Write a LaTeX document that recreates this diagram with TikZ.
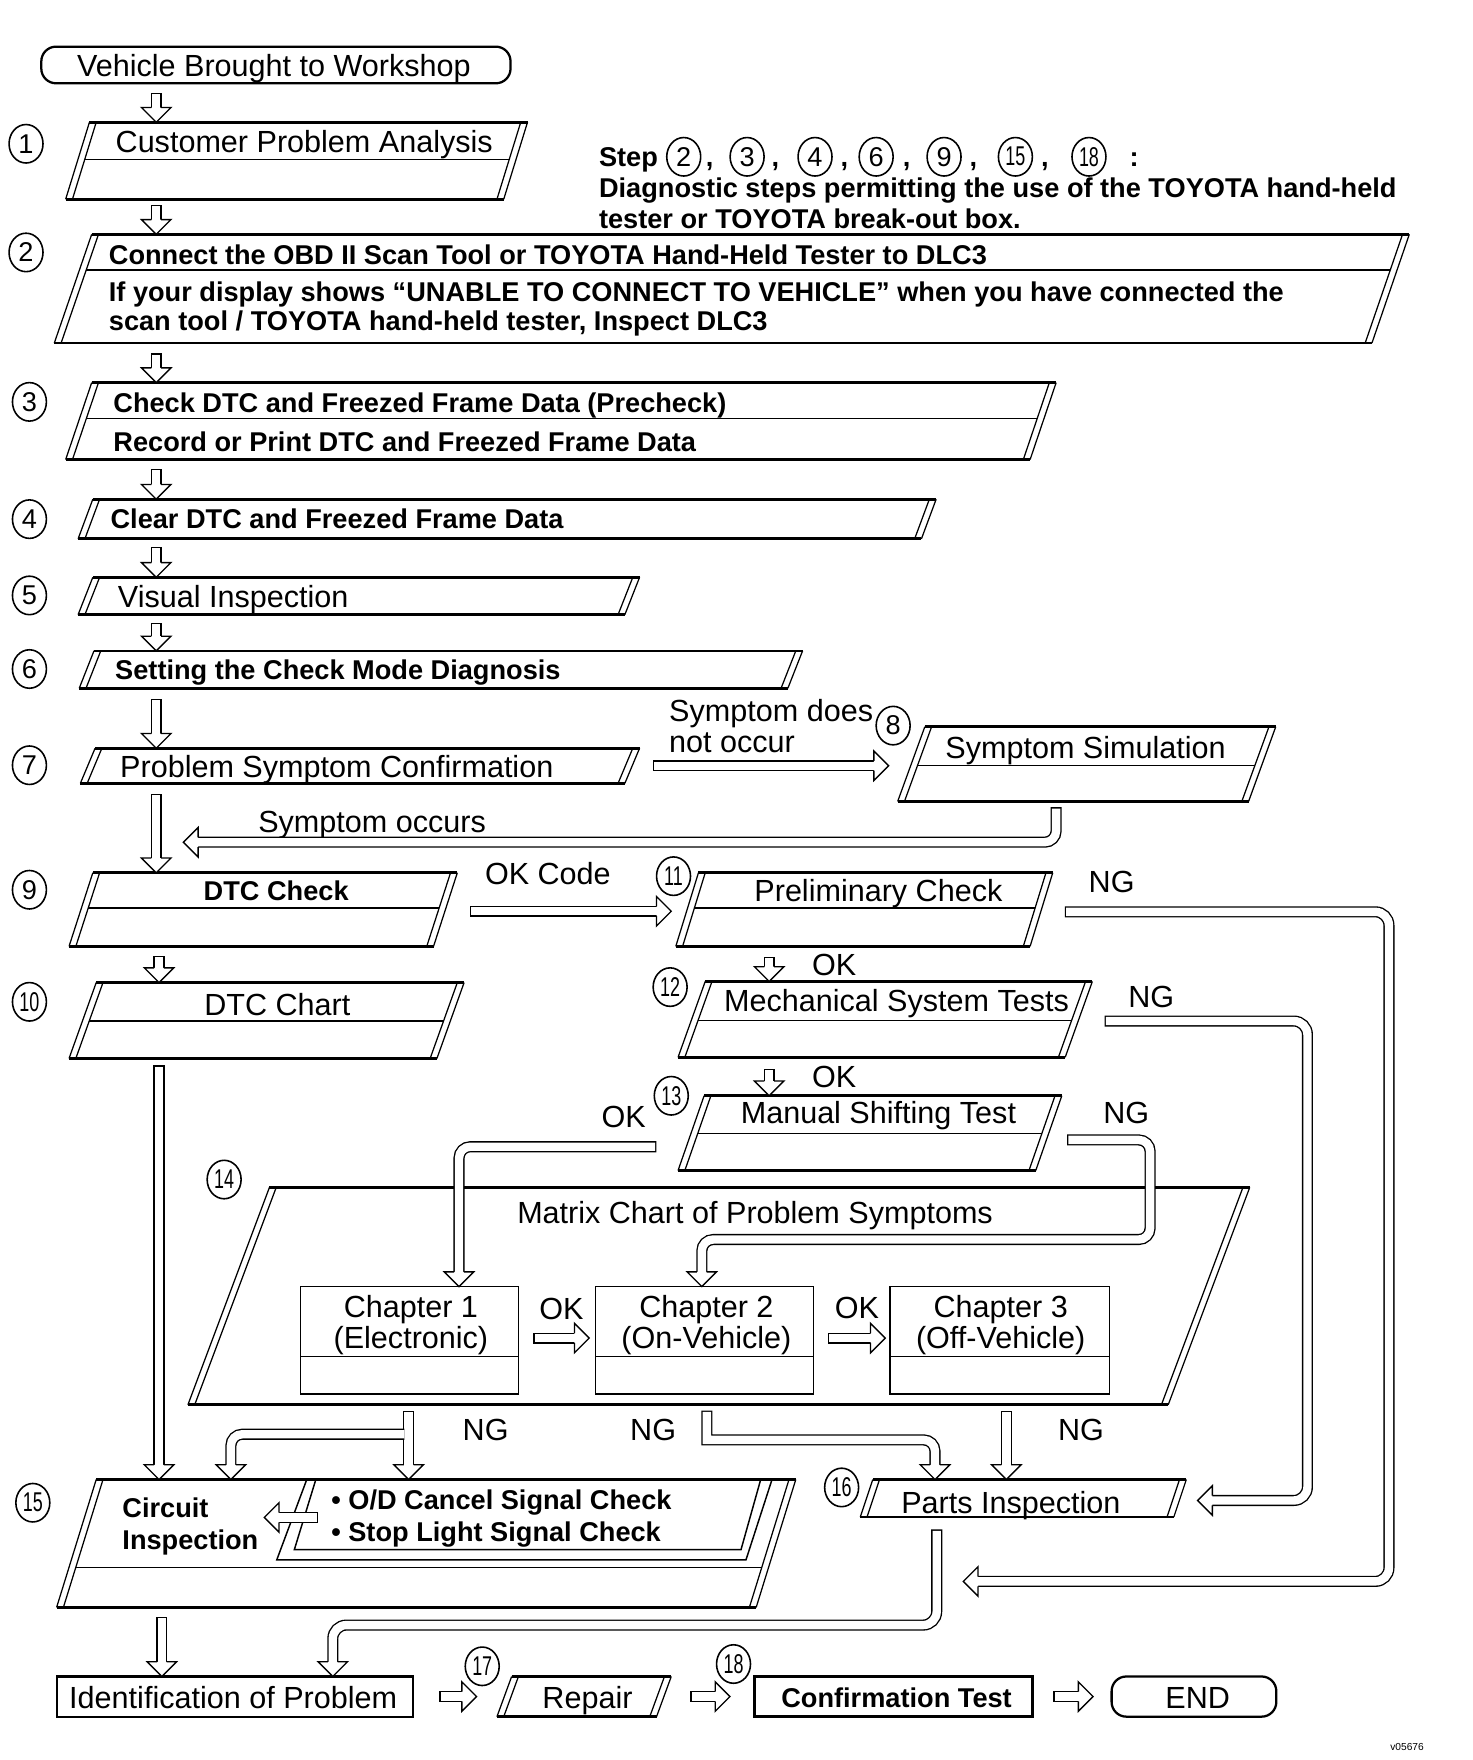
\documentclass[tikz,border=0pt]{standalone}
\usepackage{fontspec}
\setmainfont{Liberation Sans}
\usepackage{graphicx}
\usetikzlibrary{calc,fit,shapes.geometric}
\newcommand\tw[1]{\scalebox{0.66}[1]{#1}}
\newcommand\pgram[2]{%
 \coordinate (#1-tl) at ([xshift=#2]#1.north west);
 \coordinate (#1-br) at ([xshift=-#2]#1.south east);
 \coordinate (#1-tli) at ([xshift=6pt]#1-tl);
 \coordinate (#1-bli) at ([xshift=6pt]#1.south west);
 \coordinate (#1-tri) at ([xshift=-6pt]#1.north east);
 \coordinate (#1-bri) at ([xshift=-6pt]#1-br);
 \draw[side] (#1-tl) -- (#1.south west) (#1-tli) -- (#1-bli) (#1.north east) -- (#1-br) (#1-tri) -- (#1-bri);
 \draw[edge] (#1-tl) -- (#1.north east) (#1.south west) -- (#1-br);
}
\newcommand\pdiv[2]{\draw[divl] ($(#1-tli)!#2!(#1-bli)$) -- ($(#1-tri)!#2!(#1-bri)$);}
\newcommand\adn[2]{\coordinate (aS) at (#1); \coordinate (aT) at (#2); \draw[dshaft] (aS) -- ($(aT)+(0,-13)$); \pic at (aT) {bhead};}
\newcommand\art[2]{\coordinate (aS) at (#1); \coordinate (aT) at (#2); \draw[dshaft] (aS) -- ($(aT)+(-13,0)$); \pic[rotate=90] at (aT) {bhead};}
\newcommand\alf[2]{\coordinate (aS) at (#1); \coordinate (aT) at (#2); \draw[dshaft] (aS) -- ($(aT)+(13,0)$); \pic[rotate=-90] at (aT) {bhead};}
\tikzset{
 edge/.style={line width=2.4pt},
 side/.style={line width=1.1pt},
 divl/.style={line width=1.1pt},
 rt/.style={inner sep=0pt, text height=19.3pt, text depth=0pt, font=\fontsize{27}{32}\selectfont},
 bt/.style={inner sep=0pt, text height=17.2pt, text depth=0pt, font=\bfseries\fontsize{24}{29}\selectfont},
 num/.style={ellipse, draw, line width=1.4pt, minimum width=30pt, minimum height=34pt, inner sep=0pt, font=\fontsize{24}{24}\selectfont},
 area/.style={inner sep=0pt, outer sep=0pt},
 dshaft/.style={draw=black, double=white, double distance=7.4pt, line width=1.2pt, line cap=rect, line join=miter},
 bshaft/.style={dshaft, line cap=butt},
 pics/bhead/.style={code={\filldraw[fill=white, draw=black, line width=1.2pt, line join=miter, miter limit=4] (-4.3pt,13pt) -- (-13pt,13pt) -- (0pt,0pt) -- (13pt,13pt) -- (4.3pt,13pt);}},
}
\begin{document}
\begin{tikzpicture}[x=1pt, y=-1pt]
\useasboundingbox (0,0) rectangle (1300.4,1554.8);
% columns
\coordinate (colA) at (138,0);
\coordinate (colB) at (140.5,0);
\coordinate (colC) at (679.5,0);
\coordinate (colD) at (143,0);
\coordinate (colE) at (933,0);
\coordinate (colF) at (405.5,0);
\coordinate (colG) at (620,0);
\coordinate (colH) at (361,0);
\coordinate (colI) at (204,0);
\coordinate (colJ) at (624.5,0);
\coordinate (colK) at (826,0);
\coordinate (colL) at (889,0);
\coordinate (colM) at (827.5,0);
\coordinate (colN) at (294,0);

% start terminal
\node[area, draw, line width=2pt, rounded corners=13pt, fit={(36.5,41.2) (451,73.6)}] (vt) {};
\node[rt] (vtt) at (242,57.5) {Vehicle Brought to Workshop};

% boxes
\node[area, fit={(58,108) (466,176)}] (n1) {};
\pgram{n1}{21pt}\pdiv{n1}{0.485}
\node[area, fit={(48,207) (1245,303)}] (n2) {};
\pgram{n2}{33pt}\pdiv{n2}{0.328}
\node[area, fit={(58,338) (933,406)}] (n3) {};
\pgram{n3}{23pt}\pdiv{n3}{0.47}
\node[area, fit={(69,441) (827,476)}] (n4) {};
\pgram{n4}{13pt}
\node[area, fit={(69,510) (565,543)}] (n5) {};
\pgram{n5}{13pt}
\node[area, fit={(70,575) (709,608)}] (n6) {};
\pgram{n6}{13pt}
\node[area, fit={(71,661) (565,692)}] (n7) {};
\pgram{n7}{13pt}
\node[area, fit={(793,642) (1127,708)}] (n8) {};
\pgram{n8}{24pt}\pdiv{n8}{0.515}
\node[area, fit={(61,771) (404,836)}] (n9) {};
\pgram{n9}{21pt}\pdiv{n9}{0.48}
\node[area, fit={(61,868) (410,935)}] (n10) {};
\pgram{n10}{24pt}\pdiv{n10}{0.507}
\node[area, fit={(597,771) (930,836)}] (n11) {};
\pgram{n11}{20pt}\pdiv{n11}{0.48}
\node[area, fit={(599,867) (965,934)}] (n12) {};
\pgram{n12}{24pt}\pdiv{n12}{0.52}
\node[area, fit={(599,968) (938,1034)}] (n13) {};
\pgram{n13}{23pt}\pdiv{n13}{0.5}
\node[area, fit={(166,1049) (1104,1241)}] (n14) {};
\pgram{n14}{72pt}
\node[area, fit={(50,1307) (703,1420)}] (n15) {};
\pgram{n15}{35pt}\pdiv{n15}{0.69}
\node[area, fit={(760,1307) (1048,1340)}] (n16) {};
\pgram{n16}{11pt}
\node[area, fit={(439,1481) (593,1516.5)}] (n17) {};
\pgram{n17}{13pt}

% inner box of 15
\node[area, fit={(244.5,1306) (682,1378)}] (ib) {};
\draw[line width=1.3pt] (271,1307) -- (244.5,1378) -- (659,1378) -- (682,1307);
\draw[line width=1.3pt] (279,1307) -- (260,1369) -- (654.6,1369) -- (672,1307);

% chapter boxes
\node[area, draw, line width=1.5pt, fit={(265.5,1136.6) (458,1231.5)}] (ch1) {};
\node[area, draw, line width=1.5pt, fit={(526,1136.6) (718.6,1231.5)}] (ch2) {};
\node[area, draw, line width=1.5pt, fit={(786,1136.6) (980,1231.5)}] (ch3) {};
\draw[divl] (ch1.west |- 0,1198.5) -- (ch1.east |- 0,1198.5);
\draw[divl] (ch2.west |- 0,1198.5) -- (ch2.east |- 0,1198.5);
\draw[divl] (ch3.west |- 0,1198.5) -- (ch3.east |- 0,1198.5);

% bottom row
\node[area, draw, line width=1.8pt, fit={(50.6,1481) (365,1516.5)}] (id) {};
\node[area, draw, line width=2.6pt, fit={(666.8,1481) (912.3,1516.5)}] (cf) {};
\node[area, draw, line width=2pt, rounded corners=13pt, fit={(982,1481) (1127.5,1516.5)}] (en) {};

% step numbers
\node[num] (c1) at (23,127) {1};
\node[num] (c2) at (23,223) {2};
\node[num] (c3) at (26,355) {3};
\node[num] (c4) at (26,458.6) {4};
\node[num] (c5) at (26,526) {5};
\node[num] (c6) at (26,591) {6};
\node[num] (c7) at (26,676) {7};
\node[num] (c8) at (789,641) {8};
\node[num] (c9) at (26,786) {9};
\node[num] (c10) at (26,885) {\tw{10}};
\node[num] (c11) at (595,774) {\tw{11}};
\node[num] (c12) at (592,872) {\tw{12}};
\node[num] (c13) at (593,968) {\tw{13}};
\node[num] (c14) at (198,1042) {\tw{14}};
\node[num] (c15) at (29,1327.5) {\tw{15}};
\node[num] (c16) at (743.5,1314) {\tw{16}};
\node[num] (c17) at (426,1472) {\tw{17}};
\node[num] (c18) at (648,1470) {\tw{18}};

% step annotation
\node[bt, anchor=west] (st0) at (529,138.5) {Step};
\node[num] (s2) at (604,138.5) {2};
\node[bt, anchor=base] (k1) at (627,147) {,};
\node[num] (s3) at (660,138.5) {3};
\node[bt, anchor=base] (k2) at (685,147) {,};
\node[num] (s4) at (720,138.5) {4};
\node[bt, anchor=base] (k3) at (746,147) {,};
\node[num] (s6) at (774,138.5) {6};
\node[bt, anchor=base] (k4) at (801,147) {,};
\node[num] (s9) at (834,138.5) {9};
\node[bt, anchor=base] (k5) at (860,147) {,};
\node[num] (s15) at (897,138.5) {\tw{15}};
\node[bt, anchor=base] (k6) at (923,147) {,};
\node[num] (s18) at (962,138.5) {\tw{18}};
\node[bt, anchor=base] (k7) at (1002,147) {:};
\node[bt, anchor=west] (st1) at (529,166) {Diagnostic steps permitting the use of the TOYOTA hand-held};
\node[bt, anchor=west] (st2) at (529,193) {tester or TOYOTA break-out box.};

% texts
\node[rt, anchor=west] (t1) at (102,125) {Customer Problem Analysis};
\node[bt, anchor=west] (t2a) at (96,225) {Connect the OBD II Scan Tool or TOYOTA Hand-Held Tester to DLC3};
\node[bt, anchor=west] (t2b) at (96,258) {If your display shows “UNABLE TO CONNECT TO VEHICLE” when you have connected the};
\node[bt, anchor=west] (t2c) at (96,283) {scan tool / TOYOTA hand-held tester, Inspect DLC3};
\node[bt, anchor=west] (t3a) at (100,356) {Check DTC and Freezed Frame Data (Precheck)};
\node[bt, anchor=west] (t3b) at (100,390) {Record or Print DTC and Freezed Frame Data};
\node[bt, anchor=west] (t4) at (97.5,458) {Clear DTC and Freezed Frame Data};
\node[rt, anchor=west] (t5) at (104,527) {Visual Inspection};
\node[bt, anchor=west] (t6) at (101.6,592) {Setting the Check Mode Diagnosis};
\node[rt, anchor=west] (t7) at (106,677) {Problem Symptom Confirmation};
\node[rt, anchor=west] (l7a) at (591,628) {Symptom does};
\node[rt, anchor=west] (l7b) at (591,655) {not occur};
\node[rt, anchor=west] (t8) at (835,660) {Symptom Simulation};
\node[rt, anchor=west] (l8) at (228,726) {Symptom occurs};
\node[bt] (t9) at (244,787) {DTC Check};
\node[rt] (l9) at (484,772) {OK Code};
\node[rt] (t11) at (776,787) {Preliminary Check};
\node[rt] (ng11) at (982,779) {NG};
\node[rt] (t10) at (245,887) {DTC Chart};
\node[rt] (ok11) at (737,852.5) {OK};
\node[rt] (t12) at (792,884) {Mechanical System Tests};
\node[rt] (ng12) at (1017,880) {NG};
\node[rt] (ok12) at (737,951) {OK};
\node[rt] (t13) at (776,983) {Manual Shifting Test};
\node[rt] (ok13) at (551,986) {OK};
\node[rt] (ng13) at (995,983) {NG};
\node[rt] (t14) at (667,1071) {Matrix Chart of Problem Symptoms};
\node[rt] (ch1a) at (363,1154) {Chapter 1};
\node[rt] (ch1b) at (363,1182) {(Electronic)};
\node[rt] (ch2a) at (624,1154) {Chapter 2};
\node[rt] (ch2b) at (624,1182) {(On-Vehicle)};
\node[rt] (ch3a) at (884,1154) {Chapter 3};
\node[rt] (ch3b) at (884,1182) {(Off-Vehicle)};
\node[rt] (okc1) at (496,1155.7) {OK};
\node[rt] (okc2) at (757,1155) {OK};
\node[rt] (ngc1) at (429,1263) {NG};
\node[rt] (ngc2) at (577,1263) {NG};
\node[rt] (ngc3) at (955,1263) {NG};
\node[bt, anchor=west] (t15a) at (108,1332) {Circuit};
\node[bt, anchor=west] (t15b) at (108,1360) {Inspection};
\node[bt, anchor=west] (t15c) at (292.5,1325) {• O/D Cancel Signal Check};
\node[bt, anchor=west] (t15d) at (292.5,1353) {• Stop Light Signal Check};
\node[rt, anchor=west] (t16) at (796,1327) {Parts Inspection};
\node[rt] (tid) at (206,1500) {Identification of Problem};
\node[rt] (t17) at (519,1500) {Repair};
\node[bt] (tcf) at (792,1500) {Confirmation Test};
\node[rt] (ten) at (1058,1500) {END};
\node[inner sep=0pt, font=\fontsize{9}{9}\selectfont] (code) at (1243,1543) {v05676};

% straight arrows
\adn{$(vt.south -| colA)+(0,13.4)$}{n1.north -| colA}
\adn{$(n1.south -| colA)+(0,10)$}{n2.north -| colA}
\adn{$(n2.south -| colA)+(0,14)$}{n3.north -| colA}
\adn{$(n3.south -| colA)+(0,13)$}{n4.north -| colA}
\adn{$(n4.south -| colA)+(0,12)$}{n5.north -| colA}
\adn{$(n5.south -| colA)+(0,12)$}{n6.north -| colA}
\adn{$(n6.south -| colA)+(0,14)$}{n7.north -| colA}
\adn{$(n7.south -| colA)+(0,14)$}{n9.north -| colA}
\adn{$(n9.south -| colB)+(0,13)$}{n10.north -| colB}
\adn{$(n10.south -| colB)+(0,11)$}{n15.north -| colB}
\adn{$(n11.south -| colC)+(0,14)$}{n12.north -| colC}
\adn{$(n12.south -| colC)+(0,15)$}{n13.north -| colC}
\adn{$(n15.south -| colD)+(0,13)$}{id.north -| colD}
\art{$(n7.east)+(16.5,0)$}{$(n7.east -| n8.west)+(-8,0)$}
\art{$(n9.east)+(16,1.5)$}{$(n9.east -| n11.west)+(-4,1.5)$}
\art{$(ch1.east)+(18,-2)$}{$(ch2.west)+(-5.5,-2)$}
\art{$(ch2.east)+(17.4,-2)$}{$(ch3.west)+(-4,-2)$}
\art{$(id.east)+(28,0)$}{$(n17.west)+(-18,0)$}
\art{$(n17.east)+(21.6,0)$}{$(cf.west)+(-22,0)$}
\art{$(cf.east)+(23.2,0)$}{$(en.west)+(-16.4,0)$}
\alf{$(ib.west)+(31.4,-1.5)$}{$(ib.west)+(-11,-1.5)$}

% bent arrows
\coordinate (socc) at (162,744);
\draw[dshaft, rounded corners=10pt] ($(n8.south -| colE)+(0,10)$) |- ($(socc)+(13,0)$);
\pic[rotate=-90] at (socc) {bhead};

\coordinate (ngA) at (851,1397);
\draw[dshaft, rounded corners=12pt] ($(n11.east)+(15.5,2)$) -- ++(281.5,0) |- ($(ngA)+(13,0)$);
\pic[rotate=-90] at (ngA) {bhead};

\coordinate (ngB) at ($(n16.east)+(10,2)$);
\draw[dshaft, rounded corners=12pt] ($(n12.east)+(15.7,1.5)$) -- ++(174.3,0) |- ($(ngB)+(13,0)$);
\pic[rotate=-90] at (ngB) {bhead};

\draw[dshaft, rounded corners=10pt] ($(n13.west)+(-24,12)$) -| ($(ch1.north -| colF)+(0,-13)$);
\pic at (ch1.north -| colF) {bhead};

\draw[dshaft, rounded corners=10pt] ($(n13.east)+(9.6,6)$) -- ++(68.4,0) -- ++(0,88) -| ($(ch2.north -| colG)+(0,-13)$);
\pic at (ch2.north -| colG) {bhead};

\adn{$(n14.south -| colH)+(0,10)$}{n15.north -| colH}
\draw[bshaft, rounded corners=10pt] ($(n14.south -| colH)+(-3.7,26)$) -| ($(n15.north -| colI)+(0,-13)$);
\pic at (n15.north -| colI) {bhead};

\draw[dshaft] ($(n14.south -| colJ)+(0,10)$) -- ($(n14.south -| colJ)+(0,31)$) [rounded corners=10pt] -| ($(n16.north -| colK)+(0,-13)$);
\pic at (n16.north -| colK) {bhead};

\adn{$(n14.south -| colL)+(0,10)$}{n16.north -| colL}

\draw[dshaft, rounded corners=12pt] ($(n16.south -| colM)+(0,16)$) |- ($(id.north -| colN)+(0,-45.4)$) -- ($(id.north -| colN)+(0,-13)$);
\pic at (id.north -| colN) {bhead};
\end{tikzpicture}
\end{document}
